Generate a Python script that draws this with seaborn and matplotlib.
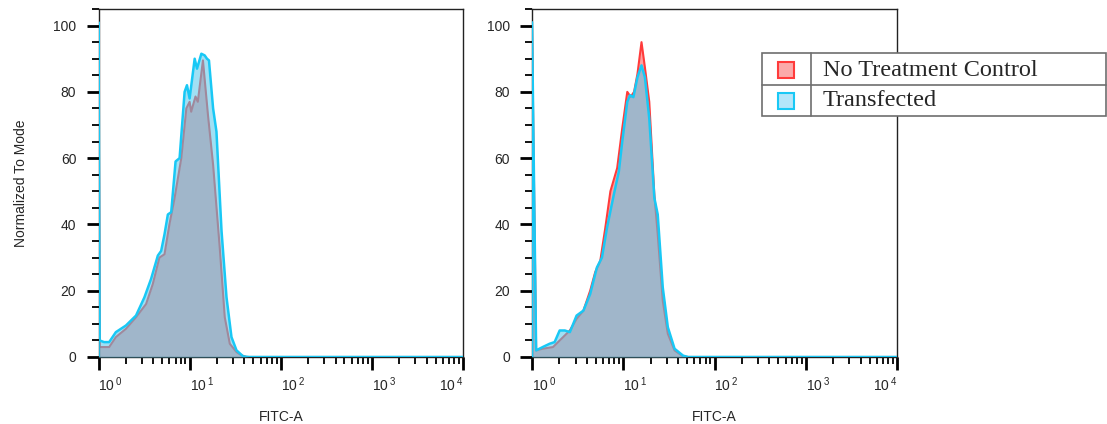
import seaborn as sns
import matplotlib.pyplot as plt
from matplotlib.ticker import MultipleLocator, LogLocator, NullFormatter
from matplotlib.patches import Rectangle
from matplotlib.lines import Line2D

sns.set_style('ticks')
plt.rcParams['font.family'] = ['Liberation Sans', 'DejaVu Sans']
plt.rcParams['mathtext.fontset'] = 'custom'
plt.rcParams['mathtext.rm'] = 'Liberation Sans'

# FITC-A intensity and "normalized to mode" values
ctrl_left_x = [1.0, 1.0, 1.03, 1.15, 1.31, 1.55, 2.0, 2.58, 3.33, 3.94, 4.66, 5.3, 6.0, 6.84, 8.1,
               9.2, 10.0, 10.4, 11.6, 12.3, 14.0, 15.9, 18.1, 21.4, 24.3, 27.6, 32.7, 37.1, 42.0, 10000]
ctrl_left_y = [0, 100, 3, 3, 3, 6, 8.5, 12, 16, 22, 30, 31, 40, 48, 60,
               75, 77, 74, 78.6, 77, 89.5, 73, 58, 33, 12, 4, 1.5, 0.5, 0, 0]

trans_left_x = [1.0, 1.0, 1.03, 1.15, 1.31, 1.55, 2.0, 2.58, 3.19, 3.78, 4.48, 4.87, 5.3, 5.77, 6.28,
                7.01, 7.76, 8.81, 9.35, 10.0, 11.36, 12.05, 13.45, 14.63, 15.5, 16.3, 18.1, 19.7,
                22.4, 25.4, 28.8, 32.7, 38.7, 45.0, 10000]
trans_left_y = [0, 101, 5, 4.5, 4.5, 7.5, 9.5, 12.5, 18, 23.6, 30.6, 32, 37, 43, 43.7,
                59, 60, 80, 82, 78, 90, 87, 91.5, 91, 90, 89.5, 75, 68,
                38, 18, 6, 2, 0.2, 0, 0]

ctrl_right_x = [1.0, 1.0, 1.11, 1.31, 1.70, 2.10, 2.60, 3.08, 3.66, 4.34, 4.93, 5.60, 6.36, 7.23, 8.58,
                9.75, 11.07, 12.06, 13.14, 14.31, 15.85, 17.27, 19.28, 21.92, 23.87, 27.1, 30.8,
                36.5, 45.3, 51.4, 10000]
ctrl_right_y = [0, 100, 2, 2.5, 3, 5.5, 8, 11.5, 14, 20, 25.6, 29, 39, 50, 57,
                69, 80, 78.5, 80, 85.4, 95, 87.4, 77, 49, 37, 17, 7,
                2, 0.2, 0, 0]

trans_right_x = [1.0, 1.0, 1.11, 1.31, 1.56, 1.77, 2.01, 2.29, 2.60, 3.08, 3.66, 4.34, 5.14, 5.84, 6.64,
                 7.88, 8.95, 9.75, 11.07, 11.86, 12.91, 14.31, 15.85, 17.27, 19.28, 21.92, 23.87,
                 27.1, 30.8, 36.5, 45.3, 51.4, 10000]
trans_right_y = [0, 101, 2, 3, 4, 4.5, 8, 8, 7.5, 12.5, 14, 19, 27, 30, 39,
                 49, 56, 65, 77, 79, 78.4, 84.4, 88, 84.4, 72, 48, 43,
                 21, 9, 2.5, 0.4, 0, 0]

tick_vals = [1, 10, 100, 1000, 10000]
tick_labels = [r'$\mathregular{10^{\,%d}}$' % i for i in range(5)]
series_names = ['No Treatment Control', 'Transfected']

red = '#ff3b3b'
cyan = '#19c8f5'

W, H = 1107, 424
fig = plt.figure(figsize=(W / 100, H / 100), dpi=100)
ax1 = fig.add_axes([98.5 / W, 1 - 357 / H, 364.5 / W, 348 / H])
ax2 = fig.add_axes([532 / W, 1 - 357 / H, 365 / W, 348 / H])

panels = [(ax1, ctrl_left_x, ctrl_left_y, trans_left_x, trans_left_y),
          (ax2, ctrl_right_x, ctrl_right_y, trans_right_x, trans_right_y)]

for ax, cx, cy, tx, ty in panels:
    ax.set_xscale('log')
    # control drawn first, transfected overlaid with a translucent fill
    ax.fill_between(cx, cy, 0, color=red, alpha=0.48, lw=0, zorder=1)
    sns.lineplot(x=cx, y=cy, ax=ax, color=red, lw=1.5, estimator=None, sort=False, zorder=2)
    ax.fill_between(tx, ty, 0, color=(82 / 255, 200 / 255, 236 / 255), alpha=0.55, lw=0, zorder=3)
    sns.lineplot(x=tx, y=ty, ax=ax, color=cyan, lw=1.8, estimator=None, sort=False, zorder=4)

    ax.set_xlim(1, 10000)
    ax.set_ylim(0, 105)
    ax.set_xticks(tick_vals)
    ax.set_xticklabels(tick_labels)
    ax.xaxis.set_minor_locator(LogLocator(base=10, subs=range(2, 10), numticks=20))
    ax.xaxis.set_minor_formatter(NullFormatter())
    ax.yaxis.set_minor_locator(MultipleLocator(5))
    ax.set_yticks([0, 20, 40, 60, 80, 100])
    ax.tick_params(axis='both', which='major', length=9, width=2, labelsize=10, color='black')
    ax.tick_params(axis='both', which='minor', length=5, width=1.3, color='black')
    ax.tick_params(axis='y', which='major', pad=7)
    ax.tick_params(axis='x', which='major', pad=4)
    for lab in ax.get_xticklabels():
        lab.set_horizontalalignment('left')
    ax.get_xticklabels()[-1].set_horizontalalignment('right')
    for sp in ax.spines.values():
        sp.set_linewidth(1)
        sp.set_color('#222222')
    ax.set_xlabel('FITC-A', fontsize=10, labelpad=12)
    ax.set_ylabel('')

ax1.set_ylabel('Normalized To Mode', fontsize=10, labelpad=18)

# table-style legend to the right of the second panel
fx = lambda x: x / W
fy = lambda y: 1 - y / H
fig.add_artist(Rectangle((fx(762), fy(116)), fx(1106) - fx(762), fy(53) - fy(116),
                         transform=fig.transFigure, facecolor='white', edgecolor='#6e6e6e', lw=1.2, zorder=5))
fig.add_artist(Line2D([fx(762), fx(1106)], [fy(85), fy(85)], transform=fig.transFigure,
                      color='#6e6e6e', lw=1.2, zorder=6))
fig.add_artist(Line2D([fx(811), fx(811)], [fy(53), fy(116)], transform=fig.transFigure,
                      color='#6e6e6e', lw=1.2, zorder=6))
swatches = [('#fbaaaa', red, 70), ('#b4e6fa', cyan, 101)]
for (fc, ec, yc), name in zip(swatches, series_names):
    fig.add_artist(Rectangle((fx(778), fy(yc + 8)), fx(794) - fx(778), fy(yc - 8) - fy(yc + 8),
                             transform=fig.transFigure, facecolor=fc, edgecolor=ec, lw=1.5, zorder=7))
    fig.text(fx(823), fy(yc), name, ha='left', va='center', fontsize=17.5,
             family=['Liberation Serif', 'DejaVu Serif'], zorder=7)

plt.savefig('out.png', dpi=100)
